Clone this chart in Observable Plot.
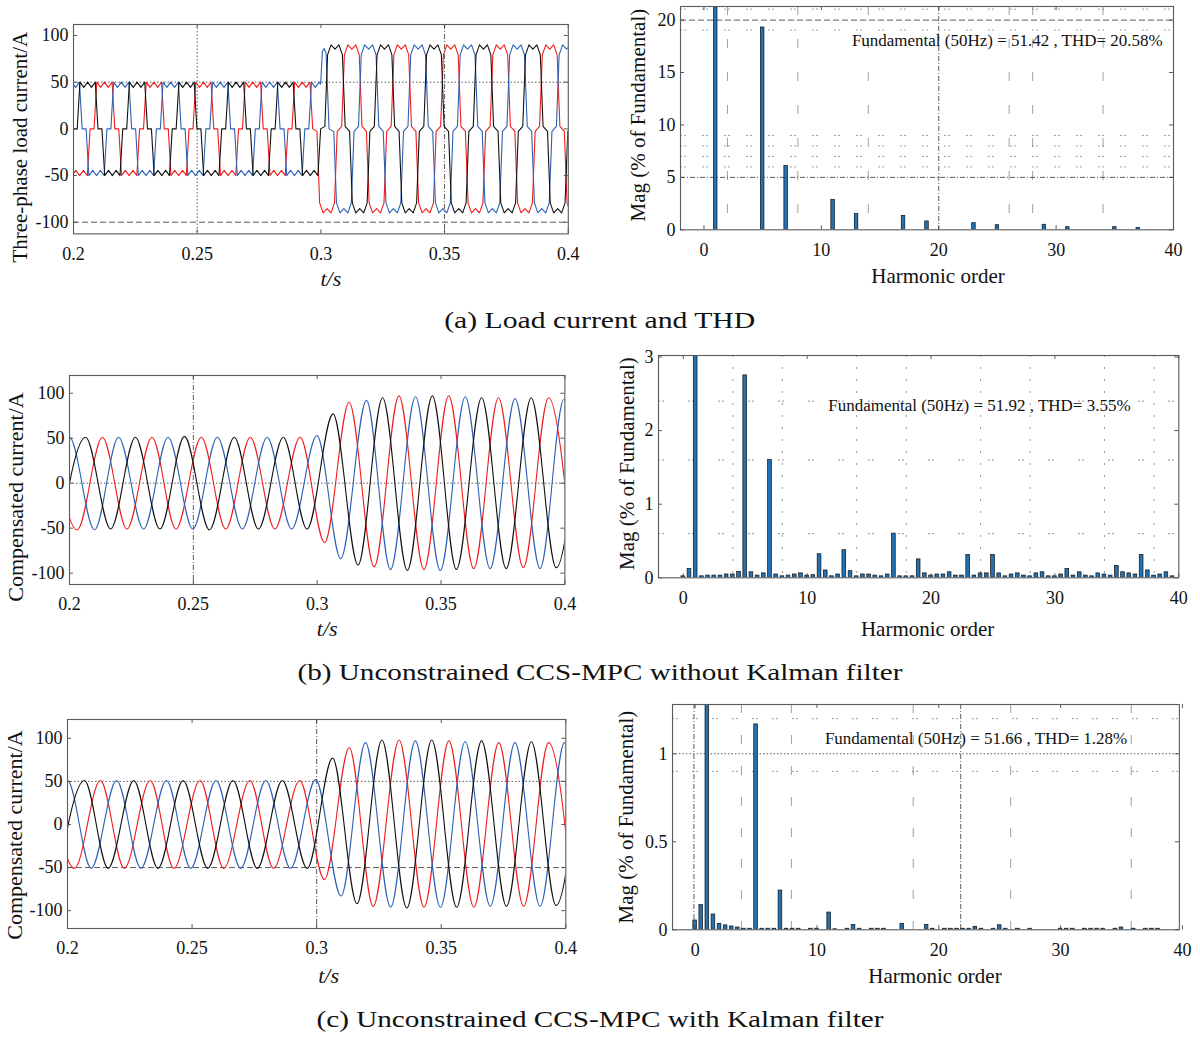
<!DOCTYPE html>
<html><head><meta charset="utf-8">
<script src="https://cdn.jsdelivr.net/npm/d3@7"></script>
<script src="https://cdn.jsdelivr.net/npm/@observablehq/plot@0.6"></script>
<style>
body{margin:0;background:#fff;}
#fig{position:relative;width:1200px;height:1037px;overflow:hidden;background:#fff;}
.panel{position:absolute;overflow:visible;}
.cap{position:absolute;left:0;width:1200px;text-align:center;font-family:"Liberation Serif",serif;font-size:24px;line-height:28px;color:#111;white-space:nowrap;}
.cap span{display:inline-block;transform-origin:center center;}
</style></head><body><div id="fig"></div>
<script>
// ---------- tick labels ----------
const timeTicks = [0.2, 0.25, 0.3, 0.35, 0.4];
const currentTicks = [-100, -50, 0, 50, 100];
const harmonicTicks = [0, 10, 20, 30, 40];
const magTicksA = [0, 5, 10, 15, 20];
const magTicksB = [0, 1, 2, 3];
const magTicksC = [0, 0.5, 1];

// ---------- (a) load current: conduction blocks [centre time, amplitude, kind] ----------
const loadBlack = [[0.1957,-50],[0.2057,50],[0.2157,-50],[0.2257,50],[0.2357,-50],[0.2457,50],[0.2557,-50],[0.2657,50],[0.2757,-50],[0.2857,50],[0.2957,-50],[0.3057,90],[0.3157,-90],[0.3257,90],[0.3357,-90],[0.3457,90],[0.3557,-90],[0.3657,90],[0.3757,-90],[0.3857,90],[0.3957,-90],[0.4057,90]];
const loadRed = [[0.1925,50],[0.2025,-50],[0.2125,50],[0.2225,-50],[0.2325,50],[0.2425,-50],[0.2525,50],[0.2625,-50],[0.2725,50],[0.2825,-50],[0.2925,50],[0.3025,-90],[0.3125,90],[0.3225,-90],[0.3325,90],[0.3425,-90],[0.3525,90],[0.3625,-90],[0.3725,90],[0.3825,-90],[0.3925,90],[0.4025,-90]];
const loadBlue = [[0.1893,-50],[0.1993,50],[0.2093,-50],[0.2193,50],[0.2293,-50],[0.2393,50],[0.2493,-50],[0.2593,50],[0.2693,-50],[0.2793,50],[0.2893,-50],[0.2993,50,"step"],[0.3093,-90],[0.3193,90],[0.3293,-90],[0.3393,90],[0.3493,-90],[0.3593,90],[0.3693,-90],[0.3793,90],[0.3893,-90],[0.3993,90],[0.4093,-90]];
// block profile: [ms from centre, fraction of amplitude]
const lowProfile = [[-4.2,0],[-3.1,1],[-1.55,0.89],[0,1],[1.55,0.89],[3.1,1],[4.2,0]];
const highProfile = [[-4.1,0.03],[-3.0,0.88],[-1.6,1],[0,0.95],[1.6,1],[3.0,0.88],[4.1,0.03]];
const stepProfile = [[-4.2,0],[-3.1,1],[-1.55,0.89],[0,1],[0.6,0.96],[1.3,1.66],[2.0,1.72],[2.8,1.62],[4.0,0]];

// ---------- (b) compensated current without Kalman: extrema [t, i] ----------
const compBlackB = [[0.1965,-51],[0.2065,51],[0.2166,-51],[0.2266,51],[0.2365,-51],[0.2464,52],[0.2565,-52],[0.2665,51],[0.2763,-51],[0.2863,51],[0.2959,-51],[0.3064,77],[0.3165,-91],[0.3264,95],[0.3364,-97],[0.3465,97],[0.3562,-96],[0.3664,95],[0.3763,-95],[0.3864,95],[0.3965,-94],[0.4065,94]];
const compRedB = [[0.1931,51],[0.2031,-52],[0.2133,51],[0.2232,-51],[0.2333,51],[0.2430,-51],[0.2532,51],[0.2631,-51],[0.2730,51],[0.2829,-51],[0.2931,51],[0.3030,-66],[0.3129,90],[0.3230,-93],[0.3330,97],[0.3431,-96],[0.3531,97],[0.3632,-95],[0.3732,95],[0.3832,-94],[0.3934,95],[0.4034,-94]];
const compBlueB = [[0.1899,-51],[0.2000,51],[0.2101,-52],[0.2198,51],[0.2299,-51],[0.2398,51],[0.2498,-51],[0.2597,51],[0.2698,-51],[0.2798,51],[0.2897,-51],[0.2999,53],[0.3095,-84],[0.3199,92],[0.3296,-96],[0.3397,96],[0.3497,-97],[0.3598,96],[0.3698,-95],[0.3799,94],[0.3900,-95],[0.3996,93],[0.4096,-93]];

// ---------- (c) compensated current with Kalman: extrema [t, i] ----------
const compBlackC = [[0.1968,-51],[0.2068,51],[0.2163,-51],[0.2266,51],[0.2363,-51],[0.2464,51],[0.2563,-51],[0.2664,51],[0.2762,-51],[0.2862,51],[0.2962,-51],[0.3064,77],[0.3162,-92],[0.3262,98],[0.3362,-97],[0.3462,98],[0.3562,-96],[0.3662,97],[0.3762,-95],[0.3862,96],[0.3961,-94],[0.4062,94]];
const compRedC = [[0.1930,51],[0.2028,-51],[0.2132,51],[0.2228,-51],[0.2332,51],[0.2427,-51],[0.2532,51],[0.2627,-51],[0.2732,51],[0.2827,-51],[0.2932,51],[0.3031,-64],[0.3131,89],[0.3227,-95],[0.3331,98],[0.3431,-96],[0.3531,97],[0.3631,-96],[0.3731,95],[0.3831,-95],[0.3931,95],[0.4031,-94]];
const compBlueC = [[0.1898,-51],[0.2000,51],[0.2095,-51],[0.2197,51],[0.2295,-51],[0.2397,51],[0.2495,-51],[0.2596,51],[0.2695,-51],[0.2796,51],[0.2895,-51],[0.2996,52],[0.3098,-83],[0.3196,95],[0.3297,-96],[0.3396,97],[0.3497,-96],[0.3596,96],[0.3697,-95],[0.3796,95],[0.3897,-95],[0.3995,95],[0.4095,-94]];

// ---------- harmonic spectra ----------
const ordersA = [1,5,7,11,13,17,19,23,25,29,31,35,37];
const magA = [100,19.3,6.1,2.86,1.5,1.33,0.8,0.63,0.44,0.48,0.25,0.25,0.19];
const ordersHalf = [0,0.5,1,1.5,2,2.5,3,3.5,4,4.5,5,5.5,6,6.5,7,7.5,8,8.5,9,9.5,10,10.5,11,11.5,12,12.5,13,13.5,14,14.5,15,15.5,16,16.5,17,17.5,18,18.5,19,19.5,20,20.5,21,21.5,22,22.5,23,23.5,24,24.5,25,25.5,26,26.5,27,27.5,28,28.5,29,29.5,30,30.5,31,31.5,32,32.5,33,33.5,34,34.5,35,35.5,36,36.5,37,37.5,38,38.5,39,39.5];
const magB = [0.02,0.12,100,0.02,0.03,0.03,0.03,0.045,0.045,0.08,
 2.75,0.075,0.03,0.06,1.6,0.045,0.02,0.03,0.045,0.06,
 0.03,0.035,0.32,0.1,0.02,0.045,0.375,0.09,0.02,0.045,
 0.045,0.03,0.02,0.045,0.6,0.02,0.02,0.02,0.25,0.06,
 0.03,0.045,0.045,0.075,0.03,0.03,0.31,0.03,0.06,0.06,
 0.31,0.06,0.02,0.045,0.06,0.03,0.02,0.06,0.075,0.02,
 0.02,0.045,0.12,0.03,0.075,0.03,0.02,0.06,0.045,0.03,
 0.16,0.075,0.06,0.045,0.31,0.1,0.03,0.045,0.075,0.02];
const magC = [0.053,0.14,100,0.087,0.034,0.025,0.019,0.013,0.006,0.006,
 1.167,0.006,0.006,0.006,0.223,0.006,0.006,0.006,0,0.006,
 0.006,0,0.098,0.003,0,0.006,0.028,0.006,0,0.006,
 0.006,0.006,0,0,0.034,0,0,0,0.028,0.006,
 0,0.006,0.006,0.006,0.006,0.006,0.017,0.006,0,0.006,
 0.026,0.006,0,0.006,0,0.006,0,0,0,0,
 0.006,0.006,0.006,0,0.006,0.006,0.006,0.006,0,0.006,
 0.013,0,0.006,0,0.006,0.006,0.006,0,0,0];

const notes = ["Fundamental (50Hz) = 51.42 , THD= 20.58%", "Fundamental (50Hz) = 51.92 , THD= 3.55%", "Fundamental (50Hz) = 51.66 , THD= 1.28%"];
const captions = ["(a) Load current and THD", "(b) Unconstrained CCS-MPC without Kalman filter", "(c) Unconstrained CCS-MPC with Kalman filter"];

// ---------- helpers ----------
const COL = {black:"#111111", red:"#f01c1c", blue:"#2c60b6", bar:"#2271b3"};
const SERIF = "Liberation Serif, Times New Roman, serif";

function expandBlocks(blocks) {
  const out = [];
  for (const [c, a, kind] of blocks) {
    const prof = kind === "step" ? stepProfile : (Math.abs(a) > 70 ? highProfile : lowProfile);
    for (const [dt, f] of prof) out.push([c + dt / 1000, a * f]);
  }
  return out;
}
function wave(pts, color, curve) {
  return Plot.line(pts, {x: d => d[0], y: d => d[1], stroke: color, strokeWidth: 1.1, curve, clip: true});
}
function bars(orders, mags) {
  const rows = orders.map((h, i) => ({h, m: mags[i]})).filter(d => d.m > 0);
  return Plot.rect(rows, {x1: d => d.h - 0.15, x2: d => d.h + 0.15, y1: 0, y2: d => d.m, fill: COL.bar, stroke: "#111", strokeWidth: 0.7, clip: true});
}
function gridX(vals, dash, color = "#333", w = 0.8) {
  return Plot.ruleX(vals, {x: d => d, stroke: color, strokeWidth: w, strokeDasharray: dash, clip: true});
}
function gridY(vals, dash, color = "#333", w = 0.8) {
  return Plot.ruleY(vals, {y: d => d, stroke: color, strokeWidth: w, strokeDasharray: dash, clip: true});
}

const fig = document.getElementById("fig");

function panel(cfg) {
  const mL = 80, mR = 12, mT = 10, mB = 66;
  const [x0, x1, y0, y1] = cfg.box;
  const w = x1 - x0, h = y1 - y0;
  const [dx0, dx1] = cfg.xDomain, [dy0, dy1] = cfg.yDomain;
  const tyLen = (dy1 - dy0) * 4 / h, txLen = (dx1 - dx0) * 4 / w;
  const marks = [
    ...cfg.marks,
    Plot.ruleX(cfg.xTicks, {x: d => d, y1: dy0, y2: dy0 + tyLen, stroke: "#444", strokeWidth: 0.9}),
    Plot.ruleX(cfg.xTicks, {x: d => d, y1: dy1, y2: dy1 - tyLen, stroke: "#444", strokeWidth: 0.9}),
    Plot.ruleY(cfg.yTicks, {y: d => d, x1: dx0, x2: dx0 + txLen, stroke: "#444", strokeWidth: 0.9}),
    Plot.ruleY(cfg.yTicks, {y: d => d, x1: dx1, x2: dx1 - txLen, stroke: "#444", strokeWidth: 0.9}),
    Plot.frame({stroke: "#5a5a5a", strokeWidth: 1.1}),
    Plot.text([cfg.xTitle], {text: d => d, frameAnchor: "bottom", textAnchor: "middle", lineAnchor: "middle", dy: cfg.xTitleDy, dx: cfg.xTitleDx, fontSize: cfg.xTitleSize, fontStyle: cfg.xTitleItalic ? "italic" : "normal", fill: "#111"}),
    Plot.text([cfg.yTitle], {text: d => d, frameAnchor: "left", textAnchor: "middle", lineAnchor: "middle", rotate: -90, dx: cfg.yTitleDx, dy: cfg.yTitleDy, fontSize: cfg.yTitleSize, fill: "#111"})
  ];
  if (cfg.note) marks.push(Plot.text([cfg.note], {text: d => d, x: cfg.noteX, y: cfg.noteY, textAnchor: "start", lineAnchor: "middle", fontSize: 17, fill: "#111"}));
  const svg = Plot.plot({
    width: w + mL + mR, height: h + mT + mB,
    marginLeft: mL, marginRight: mR, marginTop: mT, marginBottom: mB,
    style: {fontFamily: SERIF, fontSize: "18px", color: "#111", background: "transparent", overflow: "visible"},
    x: {domain: cfg.xDomain, ticks: cfg.xTicks, tickSize: 0, tickPadding: 13, tickFormat: d => String(d), label: null},
    y: {domain: cfg.yDomain, ticks: cfg.yTicks, tickSize: 0, tickPadding: 5, tickFormat: d => String(d), label: null},
    marks
  });
  svg.classList.add("panel");
  svg.style.left = (x0 - mL) + "px";
  svg.style.top = (y0 - mT) + "px";
  fig.appendChild(svg);
}

// (a) left
panel({box: [72.7, 567.5, 24, 233.4], xDomain: [0.2, 0.4], yDomain: [-112.5, 111.8], xTicks: timeTicks, yTicks: currentTicks,
  xTitle: "t/s", xTitleItalic: true, xTitleSize: 22, xTitleDy: 45, xTitleDx: 10,
  yTitle: "Three-phase load current/A", yTitleSize: 21, yTitleDx: -53, yTitleDy: 18,
  marks: [
    gridX([0.25], "1.5,2"), gridX([0.35], "5,2,1,2"), gridY([50], "1.5,2"), gridY([-100], "6,3"),
    wave(expandBlocks(loadRed), COL.red, "linear"),
    wave(expandBlocks(loadBlue), COL.blue, "linear"),
    wave(expandBlocks(loadBlack), COL.black, "linear")
  ]});
// (a) right
panel({box: [680, 1173, 6, 229.3], xDomain: [-2, 40], yDomain: [0, 21.3], xTicks: harmonicTicks, yTicks: magTicksA,
  xTitle: "Harmonic order", xTitleSize: 21, xTitleDy: 46, xTitleDx: 11,
  yTitle: "Mag (% of Fundamental)", yTitleSize: 21, yTitleDx: -42, yTitleDy: -3,
  note: notes[0], noteX: 12.6, noteY: 18.05,
  marks: [
    gridX([2, 8, 14, 26, 28, 34], "9,24", "#777", 0.7), gridY([21.05, 19.05, 9, 8, 7, 6], "2,2,2,16", "#777", 0.7),
    gridY([20], "6,3"), gridY([5], "5,2,1,2"), gridX([20], "5,2,1,2"),
    bars(ordersA, magA)
  ]});
// (b) left
panel({box: [69, 564.4, 375, 584], xDomain: [0.2, 0.4], yDomain: [-112.6, 119.7], xTicks: timeTicks, yTicks: currentTicks,
  xTitle: "t/s", xTitleItalic: true, xTitleSize: 22, xTitleDy: 44, xTitleDx: 10,
  yTitle: "Compensated current/A", yTitleSize: 22, yTitleDx: -54, yTitleDy: 17,
  marks: [
    gridX([0.25], "5,2,1,2"), gridY([0], "1.5,2"),
    wave(compRedB, COL.red, "monotone-x"),
    wave(compBlueB, COL.blue, "monotone-x"),
    wave(compBlackB, COL.black, "monotone-x")
  ]});
// (b) right
panel({box: [657.5, 1177.8, 355, 577.3], xDomain: [-2, 40], yDomain: [0, 3.02], xTicks: harmonicTicks, yTicks: magTicksB,
  xTitle: "Harmonic order", xTitleSize: 21, xTitleDy: 51, xTitleDx: 9,
  yTitle: "Mag (% of Fundamental)", yTitleSize: 21, yTitleDx: -31, yTitleDy: -3,
  note: notes[1], noteX: 11.7, noteY: 2.34,
  marks: [
    gridX([4, 8, 14, 18, 24, 28, 34, 38], "2,10", "#666", 0.7), gridY([2.4, 1.6, 0.6], "2,2,2,24", "#666", 0.7),
    bars(ordersHalf, magB)
  ]});
// (c) left
panel({box: [66.7, 565, 719.3, 928.3], xDomain: [0.2, 0.4], yDomain: [-120.7, 121.8], xTicks: timeTicks, yTicks: currentTicks,
  xTitle: "t/s", xTitleItalic: true, xTitleSize: 22, xTitleDy: 47, xTitleDx: 12,
  yTitle: "Compensated current/A", yTitleSize: 22, yTitleDx: -53, yTitleDy: 11,
  marks: [
    gridY([50], "1.5,2"), gridY([-50], "6,3"), gridX([0.3], "5,2,1,2"),
    wave(compRedC, COL.red, "monotone-x"),
    wave(compBlueC, COL.blue, "monotone-x"),
    wave(compBlackC, COL.black, "monotone-x")
  ]});
// (c) right
panel({box: [671.6, 1178.5, 704, 929.3], xDomain: [-1.86, 39.75], yDomain: [0, 1.28], xTicks: harmonicTicks, yTicks: magTicksC,
  xTitle: "Harmonic order", xTitleSize: 21, xTitleDy: 46, xTitleDx: 9,
  yTitle: "Mag (% of Fundamental)", yTitleSize: 21, yTitleDx: -46, yTitleDy: 0,
  note: notes[2], noteX: 10.65, noteY: 1.087,
  marks: [
    gridX([3.8, 7.9, 17.9, 25.9, 35.8], "9,22", "#777", 0.7), gridY([1.2, 0.9], "2,2,2,14", "#777", 0.7),
    gridX([-0.1, 21.8], "5,2,1,2"), gridY([1], "1.5,2"),
    bars(ordersHalf, magC)
  ]});

// captions
const capLayout = [[320, 311], [672, 605], [1019, 567]];
captions.forEach((t, i) => {
  const d = document.createElement("div");
  d.className = "cap";
  d.style.top = (capLayout[i][0] - 14) + "px";
  const s = document.createElement("span");
  s.textContent = t;
  d.appendChild(s);
  fig.appendChild(d);
  const wNat = s.getBoundingClientRect().width;
  if (wNat > 0) s.style.transform = `scaleX(${(capLayout[i][1] / wNat).toFixed(3)})`;
});
</script></body></html>
